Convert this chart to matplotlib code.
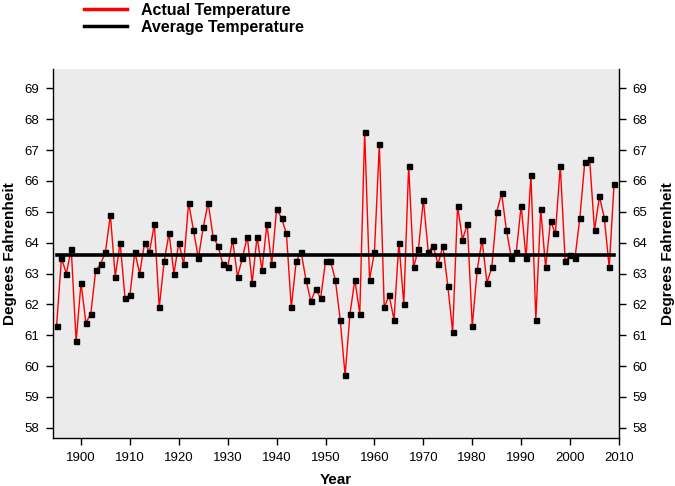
import numpy as np
import matplotlib
matplotlib.use('Agg')
import matplotlib.pyplot as plt
from matplotlib.lines import Line2D

plt.rcParams['font.family'] = ['Liberation Sans', 'DejaVu Sans']

# Annual mean temperature, 1895-2009
years = list(range(1895, 2010))
temps = [
    61.3, 63.5, 63.0, 63.8, 60.8, 62.7, 61.4, 61.7, 63.1, 63.3,   # 1895-1904
    63.7, 64.9, 62.9, 64.0, 62.2, 62.3, 63.7, 63.0, 64.0, 63.7,   # 1905-1914
    64.6, 61.9, 63.4, 64.3, 63.0, 64.0, 63.3, 65.3, 64.4, 63.5,   # 1915-1924
    64.5, 65.3, 64.2, 63.9, 63.3, 63.2, 64.1, 62.9, 63.5, 64.2,   # 1925-1934
    62.7, 64.2, 63.1, 64.6, 63.3, 65.1, 64.8, 64.3, 61.9, 63.4,   # 1935-1944
    63.7, 62.8, 62.1, 62.5, 62.2, 63.4, 63.4, 62.8, 61.5, 59.7,   # 1945-1954
    61.7, 62.8, 61.7, 67.6, 62.8, 63.7, 67.2, 61.9, 62.3, 61.5,   # 1955-1964
    64.0, 62.0, 66.5, 63.2, 63.8, 65.4, 63.7, 63.9, 63.3, 63.9,   # 1965-1974
    62.6, 61.1, 65.2, 64.1, 64.6, 61.3, 63.1, 64.1, 62.7, 63.2,   # 1975-1984
    65.0, 65.6, 64.4, 63.5, 63.7, 65.2, 63.5, 66.2, 61.5, 65.1,   # 1985-1994
    63.2, 64.7, 64.3, 66.5, 63.4, 63.6, 63.5, 64.8, 66.6, 66.7,   # 1995-2004
    64.4, 65.5, 64.8, 63.2, 65.9,                                 # 2005-2009
]
avg_temp = 63.6

x_ticks = list(range(1900, 2011, 10))
y_ticks = list(range(58, 70))

fig = plt.figure(figsize=(6.75, 4.86), dpi=100)
ax = fig.add_axes([0.078, 0.0994, 0.839, 0.7580])
ax.set_facecolor('#ebebeb')

ax.plot(years, temps, color='red', linewidth=1.0, zorder=2)
ax.plot([years[0], years[-1]], [avg_temp, avg_temp], color='black', linewidth=2.6, zorder=3)
ax.plot(years, temps, linestyle='none', marker='s', markersize=3.6,
        color='black', zorder=4)

ax.set_xlim(1894.2, 2010)
ax.set_ylim(57.68, 69.62)
ax.set_xticks(x_ticks)
ax.set_yticks(y_ticks)

ax.spines['top'].set_visible(False)
for s in ['left', 'right', 'bottom']:
    ax.spines[s].set_linewidth(1.0)

ax.tick_params(axis='both', direction='out', length=5, width=1, labelsize=9.5, pad=5)
ax.tick_params(axis='y', right=True, labelright=True)

ax.set_xlabel('Year', fontsize=11, fontweight='bold', labelpad=7)
ax.set_ylabel('Degrees Fahrenheit', fontsize=11, fontweight='bold', labelpad=5)
ax2 = ax.secondary_yaxis('right')
ax2.set_yticks([])
ax2.spines['right'].set_visible(False)
ax2.set_ylabel('Degrees Fahrenheit', fontsize=11, fontweight='bold',
               labelpad=30, rotation=90)

handles = [Line2D([], [], color='red', linewidth=2.5),
           Line2D([], [], color='black', linewidth=2.5)]
fig.legend(handles, ['Actual Temperature', 'Average Temperature'],
           loc='upper left', bbox_to_anchor=(0.124, 0.994), frameon=False,
           prop={'size': 11.5, 'weight': 'bold'}, handlelength=2.7,
           handletextpad=0.9, labelspacing=0.1, borderpad=0, borderaxespad=0)

plt.savefig('out.png', dpi=100)
